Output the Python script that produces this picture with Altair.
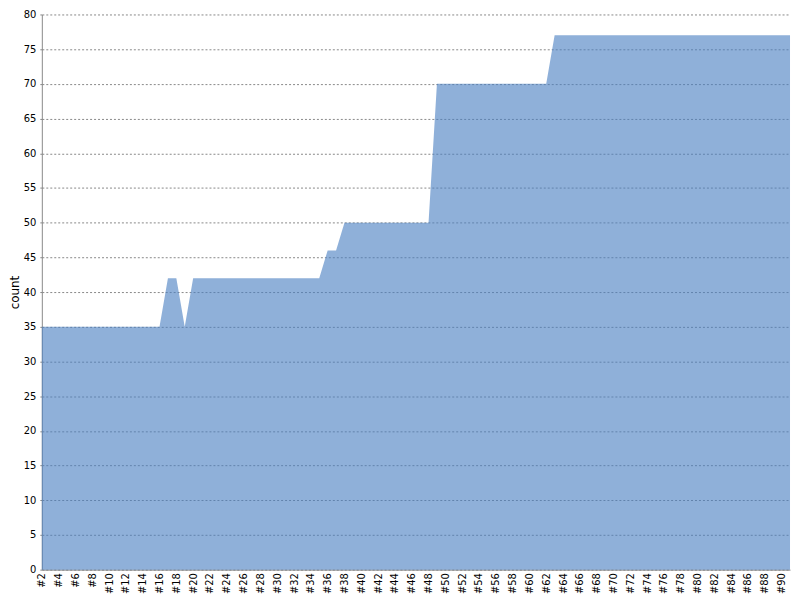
import altair as alt
import pandas as pd

categories = ["#%d" % i for i in range(2, 92)]
counts = [
    35, 35, 35, 35, 35, 35, 35, 35, 35, 35, 35, 35, 35, 35, 35,  # #2-#16
    42, 42, 35,                                                  # #17-#19
    42, 42, 42, 42, 42, 42, 42, 42, 42, 42, 42, 42, 42, 42, 42, 42,  # #20-#35
    46, 46,                                                      # #36-#37
    50, 50, 50, 50, 50, 50, 50, 50, 50, 50, 50,                  # #38-#48
    70, 70, 70, 70, 70, 70, 70, 70, 70, 70, 70, 70, 70, 70,      # #49-#62
    77, 77, 77, 77, 77, 77, 77, 77, 77, 77, 77, 77, 77, 77, 77,
    77, 77, 77, 77, 77, 77, 77, 77, 77, 77, 77, 77, 77, 77,      # #63-#91
]
x_tick_labels = categories[::2]
y_ticks = [0, 5, 10, 15, 20, 25, 30, 35, 40, 45, 50, 55, 60, 65, 70, 75, 80]

df = pd.DataFrame({"label": categories, "count": counts})

FONT = "DejaVu Sans"

chart = (
    alt.Chart(df)
    .mark_area(color="#4a7fc1", opacity=0.62, interpolate="linear")
    .encode(
        x=alt.X(
            "label:N",
            sort=None,
            scale=alt.Scale(type="point", padding=0),
            axis=alt.Axis(
                title=None,
                values=x_tick_labels,
                labelAngle=-90,
                labelFontSize=10,
                labelFont=FONT,
                labelColor="#000000",
                labelPadding=3,
                ticks=False,
                domainColor="#888888",
                domainWidth=1,
                grid=False,
                labelOverlap=False,
            ),
        ),
        y=alt.Y(
            "count:Q",
            scale=alt.Scale(domain=[0, 80], nice=False, zero=True),
            axis=alt.Axis(
                title="count",
                values=y_ticks,
                labelFontSize=10,
                labelFont=FONT,
                labelColor="#000000",
                labelPadding=2,
                titleFont=FONT,
                titleFontSize=12,
                titleFontWeight="normal",
                titleColor="#000000",
                titlePadding=2,
                tickSize=4,
                tickColor="#888888",
                tickDash=[2, 2],
                domainColor="#888888",
                domainWidth=1,
                grid=True,
                gridColor="#888888",
                gridDash=[2, 2],
                gridWidth=1,
            ),
        ),
    )
    .properties(
        width=752,
        height=558,
        padding={"left": 0, "top": 0, "right": 2, "bottom": 0},
    )
    .configure_view(strokeWidth=0)
)

chart.save("out.html", embed_options={"renderer": "svg", "actions": False})
